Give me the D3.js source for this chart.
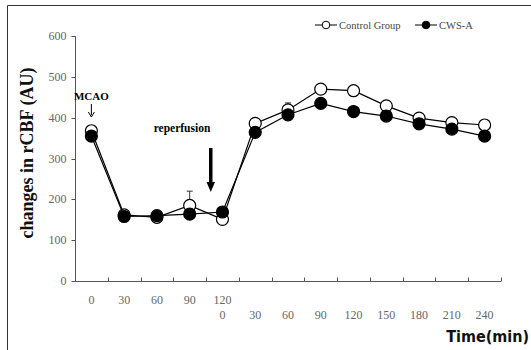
<!DOCTYPE html>
<html>
<head>
<meta charset="utf-8">
<script src="https://cdn.jsdelivr.net/npm/d3@7"></script>
<style>
body { margin: 0; background: #fff; }
svg { display: block; }
</style>
</head>
<body>
<div id="chart"></div>
<script>
// time points: first row is ischemia, second row after reperfusion
var labelsTop = ["0", "30", "60", "90", "120", "", "", "", "", "", "", "", ""];
var labelsBottom = ["", "", "", "", "0", "30", "60", "90", "120", "150", "180", "210", "240"];
var control = [368, 162, 156, 185, 151, 386, 419, 470, 466, 429, 399, 388, 382];
var cwsA = [355, 158, 160, 164, 169, 364, 407, 435, 415, 404, 385, 372, 355];
// error bar tops (control group only, where visible)
var controlErr = [null, null, null, 220, null, null, 436, null, null, null, null, null, null];
var yTicks = [0, 100, 200, 300, 400, 500, 600];

var W = 531, H = 350;
var svg = d3.select("#chart").append("svg")
	.attr("width", W).attr("height", H);

// frame (top and left only)
svg.append("path")
	.attr("d", "M7.5,350 L7.5,5.5 L531,5.5")
	.attr("fill", "none").attr("stroke", "#333").attr("stroke-width", 1);

var idx = d3.range(control.length);
var x = d3.scaleBand().domain(idx).range([75, 501]);
var y = d3.scaleLinear().domain([0, 600]).range([281, 36]);
var cx = function (i) { return x(i) + x.bandwidth() / 2; };

var axisColor = "#555";

// y axis
var yAxis = svg.append("g").attr("transform", "translate(75.5,0)");
yAxis.append("line").attr("y1", y(600)).attr("y2", y(0))
	.attr("stroke", axisColor);
yAxis.selectAll("line.tk").data(yTicks).join("line").attr("class", "tk")
	.attr("x1", -4).attr("x2", 0)
	.attr("y1", function (d) { return Math.round(y(d)) + 0.5; })
	.attr("y2", function (d) { return Math.round(y(d)) + 0.5; })
	.attr("stroke", axisColor);
yAxis.selectAll("text").data(yTicks).join("text")
	.attr("x", -9).attr("y", function (d) { return y(d) + 4; })
	.attr("text-anchor", "end")
	.style("font", "12px 'Liberation Serif', serif")
	.attr("fill", "#666")
	.text(function (d) { return d; });

// x axis
var xAxis = svg.append("g").attr("transform", "translate(0,281.5)");
xAxis.append("line").attr("x1", 75).attr("x2", 501)
	.attr("stroke", axisColor);
var edges = idx.map(function (i) { return x(i) + x.bandwidth(); });
xAxis.selectAll("line.tk").data(edges).join("line").attr("class", "tk")
	.attr("x1", function (d) { return Math.round(d) + 0.5; })
	.attr("x2", function (d) { return Math.round(d) + 0.5; })
	.attr("y1", -4).attr("y2", 0)
	.attr("stroke", axisColor);
xAxis.selectAll("text.top").data(idx).join("text").attr("class", "top")
	.attr("x", cx).attr("y", 22)
	.attr("text-anchor", "middle")
	.style("font", "12px 'Liberation Serif', serif")
	.attr("fill", "#666")
	.text(function (i) { return labelsTop[i]; });
xAxis.selectAll("text.bot").data(idx).join("text").attr("class", "bot")
	.attr("x", cx).attr("y", 37)
	.attr("text-anchor", "middle")
	.style("font", "12px 'Liberation Serif', serif")
	.attr("fill", "#666")
	.text(function (i) { return labelsBottom[i]; });

// axis titles
svg.append("text")
	.attr("transform", "translate(33,153) rotate(-90)")
	.attr("text-anchor", "middle")
	.style("font", "bold 18px 'Liberation Serif', serif")
	.attr("fill", "#111")
	.text("changes in rCBF (AU)");

svg.append("text")
	.attr("x", 529).attr("y", 342)
	.attr("text-anchor", "end")
	.style("font", "bold 16px 'DejaVu Sans Condensed', 'DejaVu Sans', sans-serif")
	.attr("fill", "#111")
	.text("Time(min)");

// error bars
var err = svg.append("g").attr("stroke", "#333").attr("stroke-width", 1);
idx.forEach(function (i) {
	if (controlErr[i] == null) return;
	err.append("line").attr("x1", cx(i)).attr("x2", cx(i))
		.attr("y1", y(control[i])).attr("y2", y(controlErr[i]));
	err.append("line").attr("x1", cx(i) - 3).attr("x2", cx(i) + 3)
		.attr("y1", y(controlErr[i])).attr("y2", y(controlErr[i]));
});

var line = d3.line().x(function (d, i) { return cx(i); }).y(function (d) { return y(d); });

function drawSeries(vals, fill) {
	var g = svg.append("g");
	g.append("path").datum(vals).attr("d", line)
		.attr("fill", "none").attr("stroke", "#000").attr("stroke-width", 1.2);
	g.selectAll("circle").data(vals).join("circle")
		.attr("cx", function (d, i) { return cx(i); })
		.attr("cy", function (d) { return y(d); })
		.attr("r", 6)
		.attr("fill", fill).attr("stroke", "#000").attr("stroke-width", 1.2);
}
drawSeries(control, "#fff");
drawSeries(cwsA, "#000");

// annotations
svg.append("text").attr("x", cx(0)).attr("y", 100)
	.attr("text-anchor", "middle")
	.style("font", "bold 11px 'Liberation Serif', serif")
	.text("MCAO");
svg.append("line").attr("x1", cx(0)).attr("x2", cx(0)).attr("y1", 104).attr("y2", 115)
	.attr("stroke", "#000").attr("stroke-width", 1);
svg.append("path")
	.attr("d", "M" + (cx(0) - 3) + ",112 L" + cx(0) + ",117 L" + (cx(0) + 3) + ",112")
	.attr("fill", "none").attr("stroke", "#000").attr("stroke-width", 1);

svg.append("text").attr("x", 182).attr("y", 132)
	.attr("text-anchor", "middle")
	.style("font", "bold 11.5px 'Liberation Serif', serif")
	.text("reperfusion");
svg.append("rect").attr("x", 209).attr("y", 148).attr("width", 3.5).attr("height", 36)
	.attr("fill", "#000");
svg.append("path")
	.attr("d", "M206.5,182 L215,182 L210.75,192 Z")
	.attr("fill", "#000");

// legend
var legend = svg.append("g").attr("transform", "translate(0,25)");
[["Control Group", "#fff", 315], ["CWS-A", "#000", 415]].forEach(function (l) {
	legend.append("line").attr("x1", l[2]).attr("x2", l[2] + 22)
		.attr("stroke", "#000").attr("stroke-width", 1);
	legend.append("circle").attr("cx", l[2] + 11).attr("r", 3.8)
		.attr("fill", l[1]).attr("stroke", "#000").attr("stroke-width", 1);
	legend.append("text").attr("x", l[2] + 24).attr("y", 3.5)
		.style("font", "10.5px 'Liberation Serif', serif")
		.attr("fill", "#444")
		.text(l[0]);
});
</script>
</body>
</html>
